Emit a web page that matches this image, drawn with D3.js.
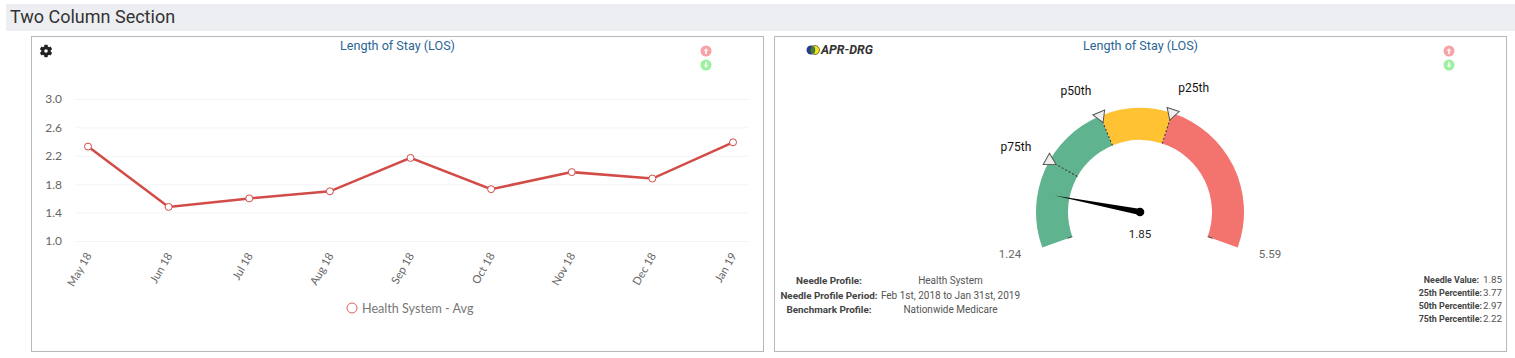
<!DOCTYPE html>
<html>
<head>
<meta charset="utf-8">
<script src="https://cdn.jsdelivr.net/npm/d3@7"></script>
<style>
    html, body { margin: 0; padding: 0; background: #fff; }
    svg { display: block; }
    text { font-family: Roboto, sans-serif; }
    .axis text, .legendText { font-family: Lato, sans-serif; }
</style>
</head>
<body>
<div id="chart"></div>
<script>
    //line chart data
    const months = ['May 18','Jun 18','Jul 18','Aug 18','Sep 18','Oct 18','Nov 18','Dec 18','Jan 19'];
    const losValues = [2.33,1.48,1.60,1.70,2.17,1.73,1.97,1.88,2.39];
    const yTicks = [1.0,1.4,1.8,2.2,2.6,3.0];

    //gauge data
    const gaugeMin = 1.24;
    const gaugeMax = 5.59;
    const needleValue = 1.85;
    const percentileNames = ['p75th','p50th','p25th'];
    const percentileValues = [2.22,2.97,3.77];
    const bandEnds = [2.97,3.77,5.59];
    const bandColors = ['#5fb38f','#fec233','#f3736f'];

    //footer text
    const profileLabels = ['Needle Profile:','Needle Profile Period:','Benchmark Profile:'];
    const profileValues = ['Health System','Feb 1st, 2018 to Jan 31st, 2019','Nationwide Medicare'];
    const statLabels = ['Needle Value:','25th Percentile:','50th Percentile:','75th Percentile:'];
    const statValues = ['1.85','3.77','2.97','2.22'];

    let svg = d3.select('#chart').append('svg')
                .attr('width', 1515)
                .attr('height', 358);

    //section header
    svg.append('rect').attr('x', 6).attr('y', 4).attr('width', 1509).attr('height', 27).attr('fill', '#eceef1');
    svg.append('text').text('Two Column Section')
       .attr('x', 10).attr('y', 23).attr('font-size', 18).attr('fill', '#333');

    //panels
    [31, 774].forEach(function(x){
        svg.append('rect').attr('x', x + 0.5).attr('y', 36.5).attr('width', 732).attr('height', 315)
           .attr('fill', '#fff').attr('stroke', '#b8b8b8');
    });
    [397.5, 1140.5].forEach(function(x){
        svg.append('text').text('Length of Stay (LOS)')
           .attr('x', x).attr('y', 50).attr('text-anchor', 'middle')
           .attr('font-size', 12.6).attr('fill', '#2b6595');
    });

    //up / down buttons
    [706, 1449].forEach(function(x){
        let up = svg.append('g').attr('transform', 'translate(' + x + ',51)');
        up.append('circle').attr('r', 5.5).attr('fill', '#f7a3a5');
        up.append('path').attr('d', 'M0,-3L2.5,0H1V3H-1V0H-2.5Z').attr('fill', '#fff').attr('opacity', 0.8);
        let down = svg.append('g').attr('transform', 'translate(' + x + ',65)');
        down.append('circle').attr('r', 5.5).attr('fill', '#9df09f');
        down.append('path').attr('d', 'M0,3L2.5,0H1V-3H-1V0H-2.5Z').attr('fill', '#fff').attr('opacity', 0.8);
    });

    //gear icon
    let gear = svg.append('g').attr('transform', 'translate(46,51)');
    gear.append('circle').attr('r', 4.8).attr('fill', '#222');
    gear.selectAll('rect').data(d3.range(6)).enter().append('rect')
        .attr('x', -1.7).attr('y', -6.2).attr('width', 3.4).attr('height', 3)
        .attr('fill', '#222')
        .attr('transform', function(d){ return 'rotate(' + (d * 60) + ')'; });
    gear.append('circle').attr('r', 1.8).attr('fill', '#fff');

    //apr-drg logo
    svg.append('circle').attr('cx', 811).attr('cy', 50).attr('r', 4.5).attr('fill', '#2a3a8e');
    svg.append('circle').attr('cx', 815).attr('cy', 50).attr('r', 4.5).attr('fill', '#f2e21b').attr('stroke', '#222').attr('stroke-width', 0.6);
    svg.append('ellipse').attr('cx', 813).attr('cy', 50).attr('rx', 2.2).attr('ry', 3.8).attr('fill', '#3f7d3a');
    svg.append('text').text('APR-DRG')
       .attr('x', 821).attr('y', 54).attr('font-size', 12.4)
       .attr('font-weight', 'bold').attr('font-style', 'italic').attr('fill', '#333');

    //line chart
    let xScale = d3.scalePoint().domain(months).range([88, 733]);
    let yScale = d3.scaleLinear().domain([1, 3]).range([241, 99]);

    let yAxis = svg.append('g').attr('class', 'axis')
        .attr('transform', 'translate(76,0)')
        .call(d3.axisLeft(yScale).tickValues(yTicks).tickFormat(d3.format('.1f')).tickSize(-672).tickPadding(14));
    yAxis.select('.domain').remove();
    yAxis.selectAll('line').attr('stroke', '#f4f4f4');
    yAxis.selectAll('text').attr('font-size', 12).attr('fill', '#666');

    let xAxis = svg.append('g').attr('class', 'axis')
        .attr('transform', 'translate(0,241)')
        .call(d3.axisBottom(xScale).tickSize(0));
    xAxis.select('.domain').remove();
    xAxis.selectAll('text')
         .attr('font-size', 11.2).attr('fill', '#666')
         .attr('text-anchor', 'end')
         .attr('dx', 0).attr('dy', 0)
         .attr('transform', 'translate(1,13) rotate(-60)');

    let lossLine = d3.line()
        .x(function(d, i){ return xScale(months[i]); })
        .y(function(d){ return yScale(d); });
    svg.append('path').datum(losValues)
       .attr('d', lossLine).attr('fill', 'none')
       .attr('stroke', '#d24b47').attr('stroke-width', 2.5);
    svg.append('g').selectAll('circle').data(losValues).enter().append('circle')
       .attr('cx', function(d, i){ return xScale(months[i]); })
       .attr('cy', function(d){ return yScale(d); })
       .attr('r', 3.5).attr('fill', '#fff').attr('stroke', '#d24b47').attr('stroke-width', 1);

    //legend
    svg.append('circle').attr('cx', 352).attr('cy', 308).attr('r', 5)
       .attr('fill', '#fff').attr('stroke', '#d9605c');
    svg.append('text').attr('class', 'legendText').text('Health System - Avg')
       .attr('x', 362).attr('y', 313).attr('font-size', 12.6).attr('fill', '#777');

    //gauge
    const cx = 1140, cy = 212, outerR = 104, innerR = 72;
    let angle = d3.scaleLinear().domain([gaugeMin, gaugeMax]).range([-110, 110]);
    let rad = function(deg){ return deg * Math.PI / 180; };
    let gauge = svg.append('g').attr('transform', 'translate(' + cx + ',' + cy + ')');

    let arc = d3.arc().innerRadius(innerR).outerRadius(outerR);
    gauge.selectAll('path.band').data(bandEnds).enter().append('path')
         .attr('class', 'band')
         .attr('d', function(d, i){
             let from = i === 0 ? gaugeMin : bandEnds[i - 1];
             return arc({startAngle: rad(angle(from)), endAngle: rad(angle(d))});
         })
         .attr('fill', function(d, i){ return bandColors[i]; });

    //short ticks at both ends of the scale
    [gaugeMin, gaugeMax].forEach(function(v){
        gauge.append('line')
             .attr('y1', -innerR).attr('y2', -innerR - 5)
             .attr('stroke', '#444').attr('stroke-width', 1)
             .attr('transform', 'rotate(' + angle(v) + ')');
    });

    //percentile markers
    let marker = gauge.selectAll('g.marker').data(percentileValues).enter().append('g')
                      .attr('class', 'marker')
                      .attr('transform', function(d){ return 'rotate(' + angle(d) + ')'; });
    marker.append('line')
          .attr('y1', -innerR).attr('y2', -outerR)
          .attr('stroke', '#333').attr('stroke-dasharray', '2,2');
    marker.append('path')
          .attr('d', d3.symbol().type(d3.symbolTriangle).size(70))
          .attr('transform', 'translate(0,' + (-outerR) + ') rotate(180)')
          .attr('fill', '#eeeeee').attr('stroke', '#555').attr('stroke-width', 1);

    //labels sit a little off the marker angle, each by its own amount
    let labelAngle = function(d, i){ return rad(angle(d) + [-2, -5.4, 5.5][i]); };
    let labelRadius = [140, 137, 135];
    gauge.selectAll('text.pct').data(percentileValues).enter().append('text')
         .attr('class', 'pct')
         .text(function(d, i){ return percentileNames[i]; })
         .attr('x', function(d, i){ return labelRadius[i] * Math.sin(labelAngle(d, i)); })
         .attr('y', function(d, i){ return -labelRadius[i] * Math.cos(labelAngle(d, i)) + 4; })
         .attr('text-anchor', 'middle').attr('font-size', 12).attr('fill', '#111');

    //needle
    gauge.append('path')
         .attr('d', 'M-3,0L0,-87L3,0Z')
         .attr('transform', 'rotate(' + angle(needleValue) + ')')
         .attr('fill', '#000');
    gauge.append('circle').attr('r', 4.3).attr('fill', '#000');

    gauge.append('text').text(needleValue).attr('x', 0).attr('y', 25.5)
         .attr('text-anchor', 'middle').attr('font-size', 11.5).attr('fill', '#222');
    gauge.append('text').text(gaugeMin).attr('x', -130).attr('y', 46)
         .attr('text-anchor', 'middle').attr('font-size', 11.5).attr('fill', '#666');
    gauge.append('text').text(gaugeMax).attr('x', 130).attr('y', 46)
         .attr('text-anchor', 'middle').attr('font-size', 11.5).attr('fill', '#666');

    //needle profile table
    profileLabels.forEach(function(d, i){
        let y = 284 + i * 14.7;
        svg.append('text').text(d)
           .attr('x', 829).attr('y', y).attr('text-anchor', 'middle')
           .attr('font-size', 9.9).attr('font-weight', 'bold').attr('fill', '#444');
        svg.append('text').text(profileValues[i])
           .attr('x', 950.5).attr('y', y).attr('text-anchor', 'middle')
           .attr('font-size', 10).attr('fill', '#555');
    });

    //percentile table
    statLabels.forEach(function(d, i){
        let y = 283 + i * 13;
        svg.append('text').text(d)
           .attr('x', i === 0 ? 1479 : 1482).attr('y', y).attr('text-anchor', 'end')
           .attr('font-size', 8.9).attr('font-weight', 'bold').attr('fill', '#444');
        svg.append('text').text(statValues[i])
           .attr('x', 1502).attr('y', y).attr('text-anchor', 'end')
           .attr('font-size', 9.8).attr('fill', '#555');
    });
</script>
</body>
</html>
